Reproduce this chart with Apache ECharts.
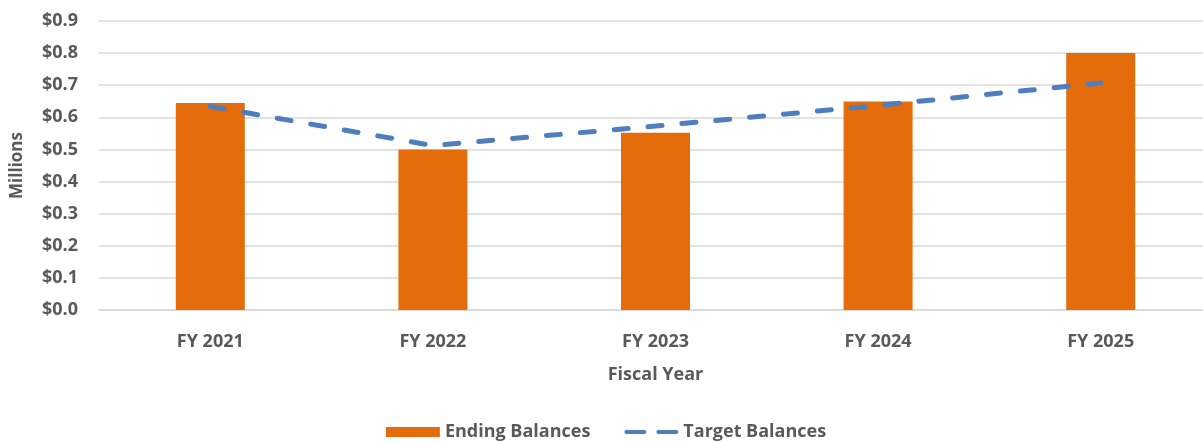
<!DOCTYPE html>
<html>
<head>
<meta charset="utf-8">
<style>
  html, body { margin: 0; padding: 0; background: #ffffff; overflow: hidden; }
  /* the plot area runs a few pixels past the right edge of the window */
  #chart { width: 1212px; height: 442px; }
</style>
<script src="https://cdn.jsdelivr.net/npm/echarts@6/dist/echarts.min.js"></script>
</head>
<body>
<div id="chart"></div>
<script>
// Fiscal years on the category axis
const categories = ['FY 2021', 'FY 2022', 'FY 2023', 'FY 2024', 'FY 2025'];
// Balances in millions of dollars
const endingBalances = [0.645, 0.50, 0.552, 0.649, 0.80];
const targetBalances = [0.634, 0.512, 0.573, 0.637, 0.707];
// Value axis range
const yMin = 0;
const yMax = 0.9;
const yStep = 0.1;

const textColor = '#595959';
const fontFamily = '"Open Sans", "Liberation Sans", sans-serif';
const barColor = '#E46C0A';
const lineColor = '#4F7EBF';

const chart = echarts.init(document.getElementById('chart'), null, { renderer: 'canvas' });

chart.setOption({
  animation: false,
  backgroundColor: '#ffffff',
  textStyle: { fontFamily: fontFamily },
  grid: { left: 99, right: 0, top: 21, bottom: 132, containLabel: false },
  legend: {
    top: 418,
    left: 'center',
    itemGap: 34,
    itemWidth: 54,
    itemHeight: 10,
    textStyle: { color: textColor, fontSize: 18, fontWeight: 'bold', fontFamily: fontFamily },
    data: [
      { name: 'Ending Balances', icon: 'rect' },
      {
        name: 'Target Balances',
        // two short dashes as the legend key
        icon: 'path://M2,0H20A2,2,0,0,1,20,4H2A2,2,0,0,1,2,0Z M34,0H52A2,2,0,0,1,52,4H34A2,2,0,0,1,34,0Z',
        itemStyle: { color: lineColor, borderWidth: 0 },
        lineStyle: { width: 0, opacity: 0 }
      }
    ]
  },
  xAxis: {
    type: 'category',
    data: categories,
    name: 'Fiscal Year',
    nameLocation: 'middle',
    nameGap: 56,
    nameTextStyle: { color: textColor, fontSize: 18, fontWeight: 'bold' },
    axisLine: { lineStyle: { color: '#d9d9d9', width: 1.5 } },
    axisTick: { show: false },
    axisLabel: { color: textColor, fontSize: 18, fontWeight: 'bold', margin: 23 }
  },
  yAxis: {
    type: 'value',
    min: yMin,
    max: yMax,
    interval: yStep,
    name: 'Millions',
    nameLocation: 'middle',
    nameGap: 73,
    nameTextStyle: { color: textColor, fontSize: 17, fontWeight: 'bold' },
    axisLine: { show: false },
    axisTick: { show: false },
    splitLine: { lineStyle: { color: '#d9d9d9', width: 1.5 } },
    axisLabel: {
      color: textColor,
      fontSize: 18,
      fontWeight: 'bold',
      margin: 21,
      formatter: v => '$' + v.toFixed(1)
    }
  },
  series: [
    {
      name: 'Ending Balances',
      type: 'bar',
      data: endingBalances,
      barWidth: 69,
      itemStyle: { color: barColor }
    },
    {
      name: 'Target Balances',
      type: 'line',
      data: targetBalances,
      symbol: 'none',
      lineStyle: { color: lineColor, width: 5, type: [14, 20], cap: 'round' },
      itemStyle: { color: lineColor },
      z: 5
    }
  ]
});
</script>
</body>
</html>
